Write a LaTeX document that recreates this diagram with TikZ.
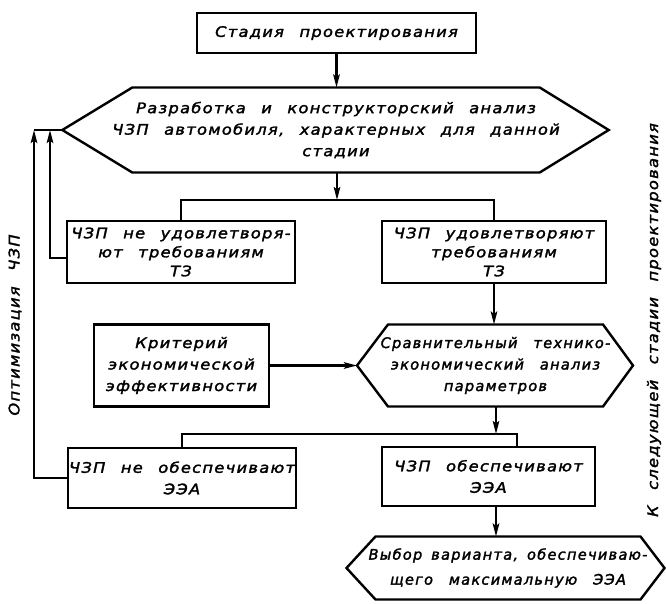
\documentclass[tikz,border=0pt]{standalone}
\usepackage{fontspec}
\usetikzlibrary{arrows.meta,calc}
\newfontfamily\gostfont{DejaVu Sans}[FakeStretch=1.12, LetterSpace=9, WordSpace=2.4, FakeBold=2]
\newfontfamily\gostnarrowfont{DejaVu Sans}[FakeStretch=1.0, LetterSpace=9, WordSpace=2.7, FakeBold=2]
\newcommand\gost{\gostfont\itshape\fontsize{14.5}{19}\selectfont}
\newcommand\gostn{\gostnarrowfont\itshape\fontsize{14.5}{21.5}\selectfont}
\tikzset{
  base/.style={font=\gost, align=center, inner sep=0pt, outer sep=0pt},
  box/.style={base, draw, line width=2.4pt},
  hexa/.style={base, inner xsep=-20pt},
  ln/.style={line width=2.4pt},
  arr/.style={line width=2.4pt, -{Stealth[length=13pt,width=6.5pt,inset=2.5pt]}},
  wide/.style={font=\gost\fontsize{14.5}{21.5}\selectfont},
  narrow/.style={font=\gostn},
  vtext/.style={base, rotate=90},
}
\begin{document}
\begin{tikzpicture}[x=1pt,y=-1pt]
\useasboundingbox (0,0) rectangle (666,603);

% boxes
\node[box, minimum width=279, minimum height=40] (b0) at (336.5,33) {Стадия проектирования};
\node[hexa, wide, minimum width=382, minimum height=85] (h1) at (336,130)
  {Разработка и конструкторский анализ\\ЧЗП автомобиля, характерных для данной\\стадии};
\node[box, minimum width=228, minimum height=62] (b1) at (181,252) {ЧЗП не удовлетворя-\\ют требованиям\\ТЗ};
\node[box, minimum width=224, minimum height=62] (b2) at (494,252) {ЧЗП удовлетворяют\\требованиям\\ТЗ};
\node[box, wide, minimum width=175, minimum height=82] (k) at (181.5,365.5) {Критерий\\экономической\\эффективности};
\node[hexa, narrow, minimum width=215, minimum height=82] (h2) at (495.5,365.5)
  {Сравнительный технико-\\экономический анализ\\параметров};
\node[box, wide, minimum width=228, minimum height=60] (b3) at (182,478) {ЧЗП не обеспечивают\\ЭЭА};
\node[box, wide, minimum width=213, minimum height=59] (b4) at (488.5,476.5) {ЧЗП обеспечивают\\ЭЭА};
\node[hexa, narrow, font=\gostn\fontsize{14.5}{25}\selectfont, minimum width=265, minimum height=63] (h3) at (508,568)
  {{\spaceskip=9pt Выбор варианта, обеспечиваю-}\\щего максимальную ЭЭА};

% hexagon outlines
\coordinate (h1L) at ([xshift=-70pt]h1.west);
\coordinate (h1R) at ([xshift=69pt]h1.east);
\draw[ln] (h1.north west) -- (h1.north east) -- (h1R) -- (h1.south east) -- (h1.south west) -- (h1L) -- cycle;
\coordinate (h2L) at ([xshift=-31pt]h2.west);
\coordinate (h2R) at ([xshift=30pt]h2.east);
\draw[ln] (h2.north west) -- (h2.north east) -- (h2R) -- (h2.south east) -- (h2.south west) -- (h2L) -- cycle;
\coordinate (h3L) at ([xshift=-29pt]h3.west);
\coordinate (h3R) at ([xshift=24pt]h3.east);
\draw[ln] (h3.north west) -- (h3.north east) -- (h3R) -- (h3.south east) -- (h3.south west) -- (h3L) -- cycle;

% side texts
\node[vtext] (opt) at (15,325) {Оптимизация ЧЗП};
\node[vtext] (next) at (654,320) {К следующей стадии проектирования};

% junctions
\coordinate (j1) at (337,200);
\coordinate (j2) at (496,434);
\coordinate (fb1) at (50,130);
\coordinate (fb2) at (34,130);

% connectors
\draw[arr] (b0.south) -- (b0.south |- h1.north);
\draw[arr] (j1 |- h1.south) -- (j1);
\draw[ln] (b1.north) |- (j1) -| (b2.north);
\draw[arr] (b2.south) -- (b2.south |- h2.north);
\draw[arr] (k.east) -- (h2L);
\draw[arr] (j2 |- h2.south) -- (j2);
\draw[ln] (b3.north) |- (j2) -| ([xshift=28.5pt]b4.north);
\draw[arr] (j2 |- b4.south) -- (j2 |- h3.north);
\draw[arr] ([yshift=-6pt]b1.west) -| (fb1);
\draw[arr] (b3.west) -| (fb2);
\draw[ln] (fb2) -- (h1L);
\end{tikzpicture}
\end{document}
